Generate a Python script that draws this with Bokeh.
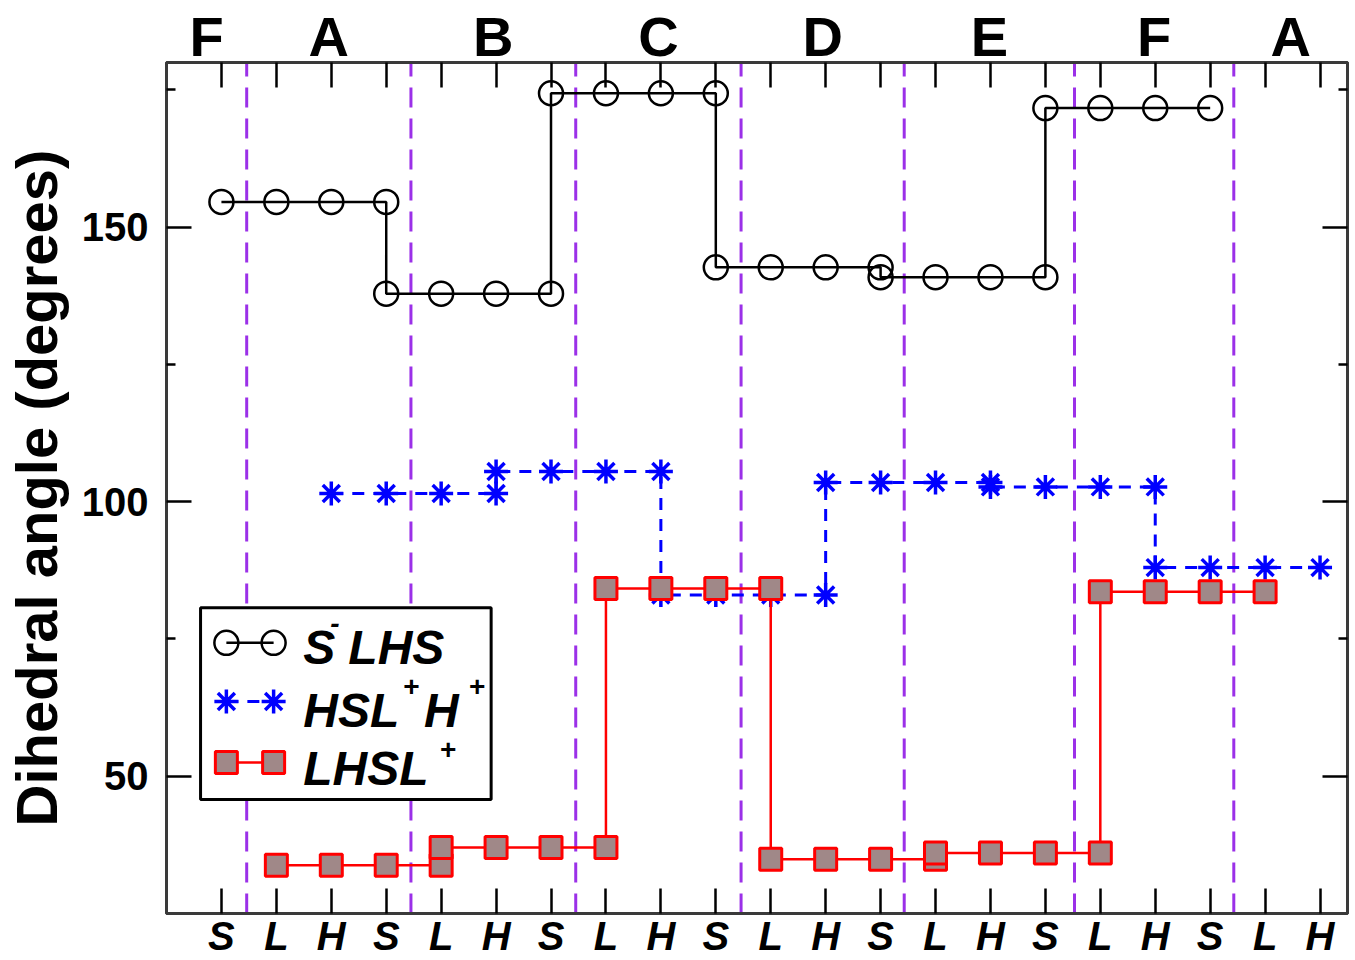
from bokeh.plotting import figure
from bokeh.models import Range1d, FixedTicker, LinearAxis
from bokeh.embed import file_html
from bokeh.resources import INLINE
from bokeh.core.properties import value

FONT = "Liberation Sans"

# ---- data -------------------------------------------------------------
positions = list(range(21))
tick_labels = ["S", "L", "H", "S", "L", "H", "S", "L", "H", "S", "L",
               "H", "S", "L", "H", "S", "L", "H", "S", "L", "H"]
y_major = [50, 100, 150]
y_minor = [75, 125, 175]
region_labels = ["F", "A", "B", "C", "D", "E", "F", "A"]
region_bounds = [0.46, 3.45, 6.45, 9.46, 12.43, 15.53, 18.43]

slhs_x = [0, 1, 2, 3, 3, 4, 5, 6, 6, 7, 8, 9, 9, 10, 11, 12, 12, 13, 14, 15, 15, 16, 17, 18]
slhs_y = [154.6, 154.6, 154.6, 154.6, 137.9, 137.9, 137.9, 137.9,
          174.4, 174.4, 174.4, 174.4, 142.7, 142.7, 142.7, 142.7,
          140.9, 140.9, 140.9, 140.9, 171.7, 171.7, 171.7, 171.7]

hslh_x = [2, 3, 4, 5, 5, 6, 7, 8, 8, 9, 10, 11, 11, 12, 13, 14, 14, 15, 16, 17, 17, 18, 19, 20]
hslh_y = [101.5, 101.5, 101.5, 101.5, 105.5, 105.5, 105.5, 105.5,
          83.0, 83.0, 83.0, 83.0, 103.5, 103.5, 103.5, 103.5,
          102.7, 102.7, 102.7, 102.7, 88.0, 88.0, 88.0, 88.0]

lhsl_x = [1, 2, 3, 4, 4, 5, 6, 7, 7, 8, 9, 10, 10, 11, 12, 13, 13, 14, 15, 16, 16, 17, 18, 19]
lhsl_y = [33.8, 33.8, 33.8, 33.8, 37.0, 37.0, 37.0, 37.0,
          84.2, 84.2, 84.2, 84.2, 34.9, 34.9, 34.9, 34.9,
          36.0, 36.0, 36.0, 36.0, 83.6, 83.6, 83.6, 83.6]

X0, X1 = -1.0, 20.5
Y0, Y1 = 25.0, 180.0

BLACK = "#000000"
BLUE = "#0000ff"
RED = "#ff0000"
PURPLE = "#9b30e8"
SQFILL = "#a08888"
FRAME = "#3a3a3a"

p = figure(width=1355, height=960,
           x_range=Range1d(X0, X1), y_range=Range1d(Y0, Y1),
           output_backend="svg", toolbar_location=None,
           x_axis_location=None, y_axis_location=None,
           min_border_left=165, min_border_right=8,
           min_border_top=62, min_border_bottom=44)
p.background_fill_color = "white"
p.border_fill_color = "white"
p.outline_line_color = FRAME
p.outline_line_width = 3
p.grid.grid_line_color = None


def style_axis(ax):
    ax.axis_line_color = FRAME
    ax.axis_line_width = 3
    ax.major_tick_line_color = BLACK
    ax.major_tick_line_width = 2.5
    ax.major_tick_in = 25
    ax.major_tick_out = 0
    ax.minor_tick_line_color = BLACK
    ax.minor_tick_line_width = 2.5
    ax.minor_tick_in = 9
    ax.minor_tick_out = 0
    ax.major_label_text_font = FONT
    ax.major_label_text_color = BLACK


bottom = LinearAxis(ticker=FixedTicker(ticks=positions, minor_ticks=[]),
                    major_label_overrides={i: t for i, t in zip(positions, tick_labels)})
style_axis(bottom)
bottom.major_label_text_font_size = "40px"
bottom.major_label_text_font_style = "bold italic"
bottom.major_label_standoff = 0
p.add_layout(bottom, "below")

# top axis: region letters centred between separators, inward ticks at positions
edges = [X0] + region_bounds + [X1]
mids = [round((a + b) / 2, 4) for a, b in zip(edges[:-1], edges[1:])]
top = LinearAxis(ticker=FixedTicker(ticks=mids, minor_ticks=positions),
                 major_label_overrides={m: t for m, t in zip(mids, region_labels)})
style_axis(top)
top.major_tick_line_color = None
top.minor_tick_in = 25
top.major_label_text_font_size = "56px"
top.major_label_text_font_style = "bold"
top.major_label_standoff = -5
p.add_layout(top, "above")

left = LinearAxis(ticker=FixedTicker(ticks=y_major, minor_ticks=y_minor),
                  axis_label="Dihedral angle (degrees)")
style_axis(left)
left.major_label_text_font_size = "40px"
left.major_label_text_font_style = "bold"
left.major_label_standoff = 18
left.axis_label_text_font = FONT
left.axis_label_text_font_size = "58px"
left.axis_label_text_font_style = "bold"
left.axis_label_text_color = BLACK
left.axis_label_standoff = 10
p.add_layout(left, "left")

right = LinearAxis(ticker=FixedTicker(ticks=y_major, minor_ticks=y_minor),
                   major_label_overrides={v: "" for v in y_major})
style_axis(right)
right.major_label_text_font_size = "1px"
right.major_label_standoff = 0
p.add_layout(right, "right")

# region separators
n = len(region_bounds)
p.segment(x0=region_bounds, y0=[Y0] * n, x1=region_bounds, y1=[Y1] * n,
          line_color=PURPLE, line_width=3, line_dash="20 11")

# series
p.line(slhs_x, slhs_y, line_color=BLACK, line_width=2.5)
p.scatter(slhs_x, slhs_y, marker="circle", size=24, line_color=BLACK,
          line_width=2.5, fill_color=None)

p.line(hslh_x, hslh_y, line_color=BLUE, line_width=3, line_dash="12 9")
p.scatter(hslh_x, hslh_y, marker="asterisk", size=24, line_color=BLUE,
          line_width=3.5)

p.line(lhsl_x, lhsl_y, line_color=RED, line_width=2.5)
p.scatter(lhsl_x, lhsl_y, marker="square", size=22, line_color=RED,
          line_width=3, fill_color=SQFILL)

# legend box (drawn manually to reproduce the sample layout)
p.quad(left=[-0.38], right=[4.91], top=[80.67], bottom=[45.76],
       fill_color="white", line_color=BLACK, line_width=3)
lx = [0.09, 0.95]
p.line(lx, [74.3, 74.3], line_color=BLACK, line_width=2.5)
p.scatter(lx, [74.3, 74.3], marker="circle", size=24, line_color=BLACK,
          line_width=2.5, fill_color=None)
p.line(lx, [63.6, 63.6], line_color=BLUE, line_width=3, line_dash="12 9")
p.scatter(lx, [63.6, 63.6], marker="asterisk", size=24, line_color=BLUE,
          line_width=3.5)
p.line(lx, [52.5, 52.5], line_color=RED, line_width=2.5)
p.scatter(lx, [52.5, 52.5], marker="square", size=22, line_color=RED,
          line_width=3, fill_color=SQFILL)

main_txt = dict(text_font=value(FONT), text_font_size="48px",
                text_font_style="bold italic", text_color=BLACK,
                text_align="left", text_baseline="middle")
sup_txt = dict(text_font=value(FONT), text_font_size="28px",
               text_font_style="bold italic", text_color=BLACK,
               text_align="left", text_baseline="middle")
p.text(x=[1.49, 2.31], y=[73.4, 73.4], text=["S", "LHS"], **main_txt)
p.text(x=[1.98], y=[77.9], text=["-"], **sup_txt)
p.text(x=[1.49, 3.69], y=[61.9, 61.9], text=["HSL", "H"], **main_txt)
p.text(x=[3.30, 4.50], y=[66.3, 66.3], text=["+", "+"], **sup_txt)
p.text(x=[1.49], y=[51.4], text=["LHSL"], **main_txt)
p.text(x=[3.97], y=[54.8], text=["+"], **sup_txt)

open("out.html", "w").write(file_html(p, INLINE))
